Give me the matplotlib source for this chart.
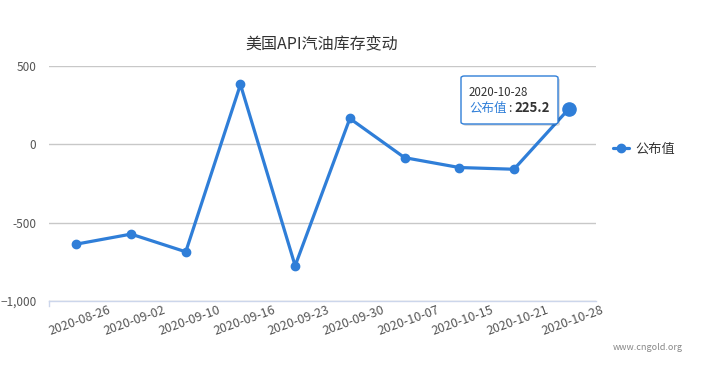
import matplotlib.pyplot as plt
import matplotlib.transforms as mtransforms
from matplotlib.patches import FancyBboxPatch
import numpy as np

plt.rcParams['font.family'] = ['Noto Sans CJK SC', 'DejaVu Sans']

# data
dates = ['2020-08-26', '2020-09-02', '2020-09-10', '2020-09-16', '2020-09-23',
         '2020-09-30', '2020-10-07', '2020-10-15', '2020-10-21', '2020-10-28']
values = [-637, -573, -686, 382, -775, 165, -85, -148, -159, 225.2]
yticks = [-1000, -500, 0, 500]
ytick_labels = ['−1,000', '-500', '0', '500']
series_name = '公布值'
title = '美国API汽油库存变动'

blue = '#2f7ed8'
W, H = 701, 372

fig = plt.figure(figsize=(W / 100, H / 100), dpi=100)
ax = fig.add_axes([49 / W, 71 / H, (596 - 49) / W, (301 - 66) / H])

x = np.arange(len(dates))
ax.plot(x, values, color=blue, lw=2.3, marker='o', ms=6, label=series_name,
        solid_capstyle='round', zorder=3)
# hovered last point is drawn larger
ax.plot(x[-1], values[-1], 'o', color=blue, ms=9.5, zorder=4)

ax.set_xlim(-0.5, len(dates) - 0.5)
ax.set_ylim(-1000, 500)
ax.set_yticks(yticks)
ax.set_yticklabels(ytick_labels)
ax.grid(axis='y', color='#c8c8c8', lw=1)
ax.set_axisbelow(True)
for s in ['top', 'right', 'left']:
    ax.spines[s].set_visible(False)
ax.spines['bottom'].set_color('#ccd6eb')
ax.spines['bottom'].set_linewidth(1)
ax.tick_params(axis='y', length=0, pad=9, labelsize=8.5, labelcolor='#555555')

ax.set_xticks(x)
ax.set_xticklabels(dates, rotation=20, ha='right', va='top', rotation_mode='anchor')
ax.tick_params(axis='x', length=0, pad=2, labelsize=9, labelcolor='#555555')
shift = mtransforms.ScaledTranslation(32 / 100, 0, fig.dpi_scale_trans)
for lab in ax.get_xticklabels():
    lab.set_transform(lab.get_transform() + shift)
# small tick at left edge of the axis
ax.plot([-0.5, -0.5], [0, -0.02], transform=ax.get_xaxis_transform(),
        color='#ccd6eb', lw=1, clip_on=False)

fig.text(322 / W, 1 - 45 / H, title, ha='center', va='center', fontsize=11.5,
         color='#333333')

# tooltip
box = FancyBboxPatch((461 / W, 1 - 124 / H), 97 / W, 48 / H,
                     boxstyle='round,pad=0,rounding_size=0.005',
                     transform=fig.transFigure, facecolor='white',
                     edgecolor=blue, lw=1, zorder=10)
shadow = FancyBboxPatch((463 / W, 1 - 126 / H), 97 / W, 48 / H,
                        boxstyle='round,pad=0,rounding_size=0.005',
                        transform=fig.transFigure, facecolor='#00000022',
                        edgecolor='none', zorder=9)
fig.patches.extend([shadow, box])
fig.text(469 / W, 1 - 93 / H, dates[-1], ha='left', va='center', fontsize=8.3,
         color='#333333', zorder=11)
fig.text(469 / W, 1 - 108 / H, series_name, ha='left', va='center', fontsize=9,
         color=blue, zorder=11)
fig.text(508 / W, 1 - 108 / H, ':', ha='left', va='center', fontsize=9,
         color='#333333', zorder=11)
fig.text(514 / W, 1 - 108 / H, f'{values[-1]}', ha='left', va='center', fontsize=9.5,
         color='#333333', fontweight='bold', zorder=11)

ax.legend(loc='center left', bbox_to_anchor=(613 / W, 1 - 149 / H),
          bbox_transform=fig.transFigure, frameon=False, fontsize=9.5,
          handlelength=1.2, handletextpad=0.5, labelcolor='#333333',
          borderaxespad=0, borderpad=0)

fig.text(683 / W, 1 - 348 / H, 'www.cngold.org', ha='right', va='center',
         fontsize=6.5, color='#888888')

fig.savefig('out.png', dpi=100)
